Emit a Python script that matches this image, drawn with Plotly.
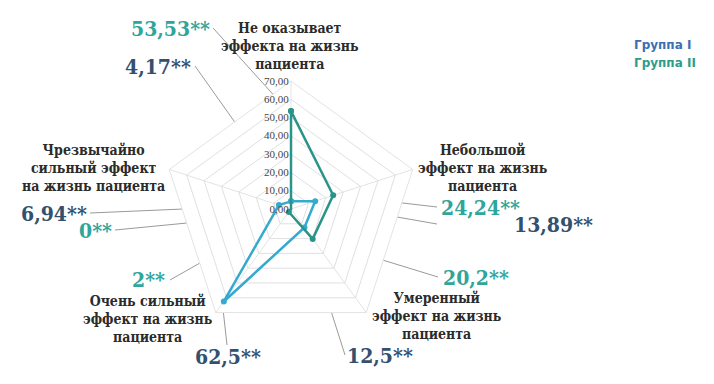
import plotly.graph_objects as go

categories = [
    "Не оказывает<br>эффекта на жизнь<br>пациента",
    "Небольшой<br>эффект на жизнь<br>пациента",
    "Умеренный<br>эффект на жизнь<br>пациента",
    "Очень сильный<br>эффект на жизнь<br>пациента",
    "Чрезвычайно<br>сильный эффект<br>на жизнь пациента",
]
group1 = [4.17, 13.89, 12.5, 62.5, 6.94]
group2 = [53.53, 24.24, 20.2, 2, 0]
series_names = ["Группа I", "Группа II"]
tick_vals = [0, 10, 20, 30, 40, 50, 60, 70]

OFF = 8  # page body margin
W, H = 714 - 2 * OFF, 384 - 2 * OFF
line1, line2 = "#35a9cf", "#2b9488"
lab1, lab2 = "#34506f", "#2fa59b"
serif = "Liberation Serif"
bserif = "DejaVu Serif Condensed, DejaVu Serif"

def P(x, y):
    return (x - OFF) / W, 1 - (y - OFF) / H

fig = go.Figure()
idx = list(range(len(categories)))
for vals, name, col in [(group1, series_names[0], line1), (group2, series_names[1], line2)]:
    fig.add_trace(go.Scatterpolar(
        r=vals + [vals[0]], theta=idx + [idx[0]], name=name, mode="lines+markers",
        line=dict(color=col, width=2.5), marker=dict(size=6, color=col),
        showlegend=False))

cx, cy, R = 291, 209, 128
x0d, y1d = P(cx - R, cy - R)
x1d, y0d = P(cx + R, cy + R)
fig.update_layout(
    width=W, height=H, margin=dict(l=0, r=0, t=0, b=0),
    paper_bgcolor="white", plot_bgcolor="white",
    separators=", ",
    polar=dict(
        domain=dict(x=[x0d, x1d], y=[y0d, y1d]),
        gridshape="linear", bgcolor="white",
        angularaxis=dict(type="category", categoryarray=idx, tickvals=idx, direction="clockwise",
                         rotation=90, showticklabels=False, ticks="",
                         gridcolor="#e3e3e3", linecolor="#e3e3e3", gridwidth=1),
        radialaxis=dict(range=[0, 70], tickvals=tick_vals, tickformat=".2f", angle=90,
                        tickangle=90, side="counterclockwise", showline=False, ticks="",
                        gridcolor="#e0e0e0",
                        tickfont=dict(family=serif, size=11, color="#444")),
    ),
)

ann = []
# category labels
cat_pos = [(290, 46), (483, 168), (437, 316), (148, 319), (93, 168)]
for c, (x, y) in zip(categories, cat_pos):
    xx, yy = P(x, y)
    ann.append(dict(x=xx, y=yy, xref="paper", yref="paper", text=c,
                    showarrow=False, xanchor="center", yanchor="middle",
                    font=dict(family=bserif, size=14, color="#2b2b2b", weight="bold"), align="center"))

def fmt(v):
    return f"{v:g}".replace(".", ",") + "**"

# value labels: (text center, leader start, leader end)
g1_pos = [((158, 66), (195, 66), (290, 200)),
          ((553, 224), (437, 224), (317, 203)),
          ((380, 355), (345, 355), (305, 229)),
          ((228, 356), (227, 345), (222, 300)),
          ((54, 213), (90, 213), (277, 205))]
g2_pos = [((170, 28), (213, 28), (289, 112)),
          ((480, 207), (437, 207), (334, 195)),
          ((476, 277), (438, 277), (314, 239)),
          ((148, 279), (170, 280), (288, 213)),
          ((95, 230), (115, 230), (290, 213))]
shapes = []
for vals, poss, col in [(group1, g1_pos, lab1), (group2, g2_pos, lab2)]:
    for v, (tc, a, b) in zip(vals, poss):
        xx, yy = P(*tc)
        ann.append(dict(x=xx, y=yy, xref="paper", yref="paper", text=fmt(v),
                        showarrow=False, xanchor="center", yanchor="middle",
                        font=dict(family=bserif, size=21, color=col, weight="bold")))
        xa, ya = P(*a)
        xb, yb = P(*b)
        shapes.append(dict(type="line", xref="paper", yref="paper", x0=xa, y0=ya, x1=xb, y1=yb,
                           line=dict(color="#9a9a9a", width=1), layer="below"))

# legend text
for name, col, (x, y) in [(series_names[0], "#3b6fb2", (632, 45)), (series_names[1], "#2f9c88", (632, 63))]:
    xx, yy = P(x, y)
    ann.append(dict(x=xx, y=yy, xref="paper", yref="paper", text=name,
                    showarrow=False, xanchor="left", yanchor="middle",
                    font=dict(family="DejaVu Sans", size=12, color=col, weight="bold")))

fig.update_layout(annotations=ann, shapes=shapes)
fig.write_html("out.html")
